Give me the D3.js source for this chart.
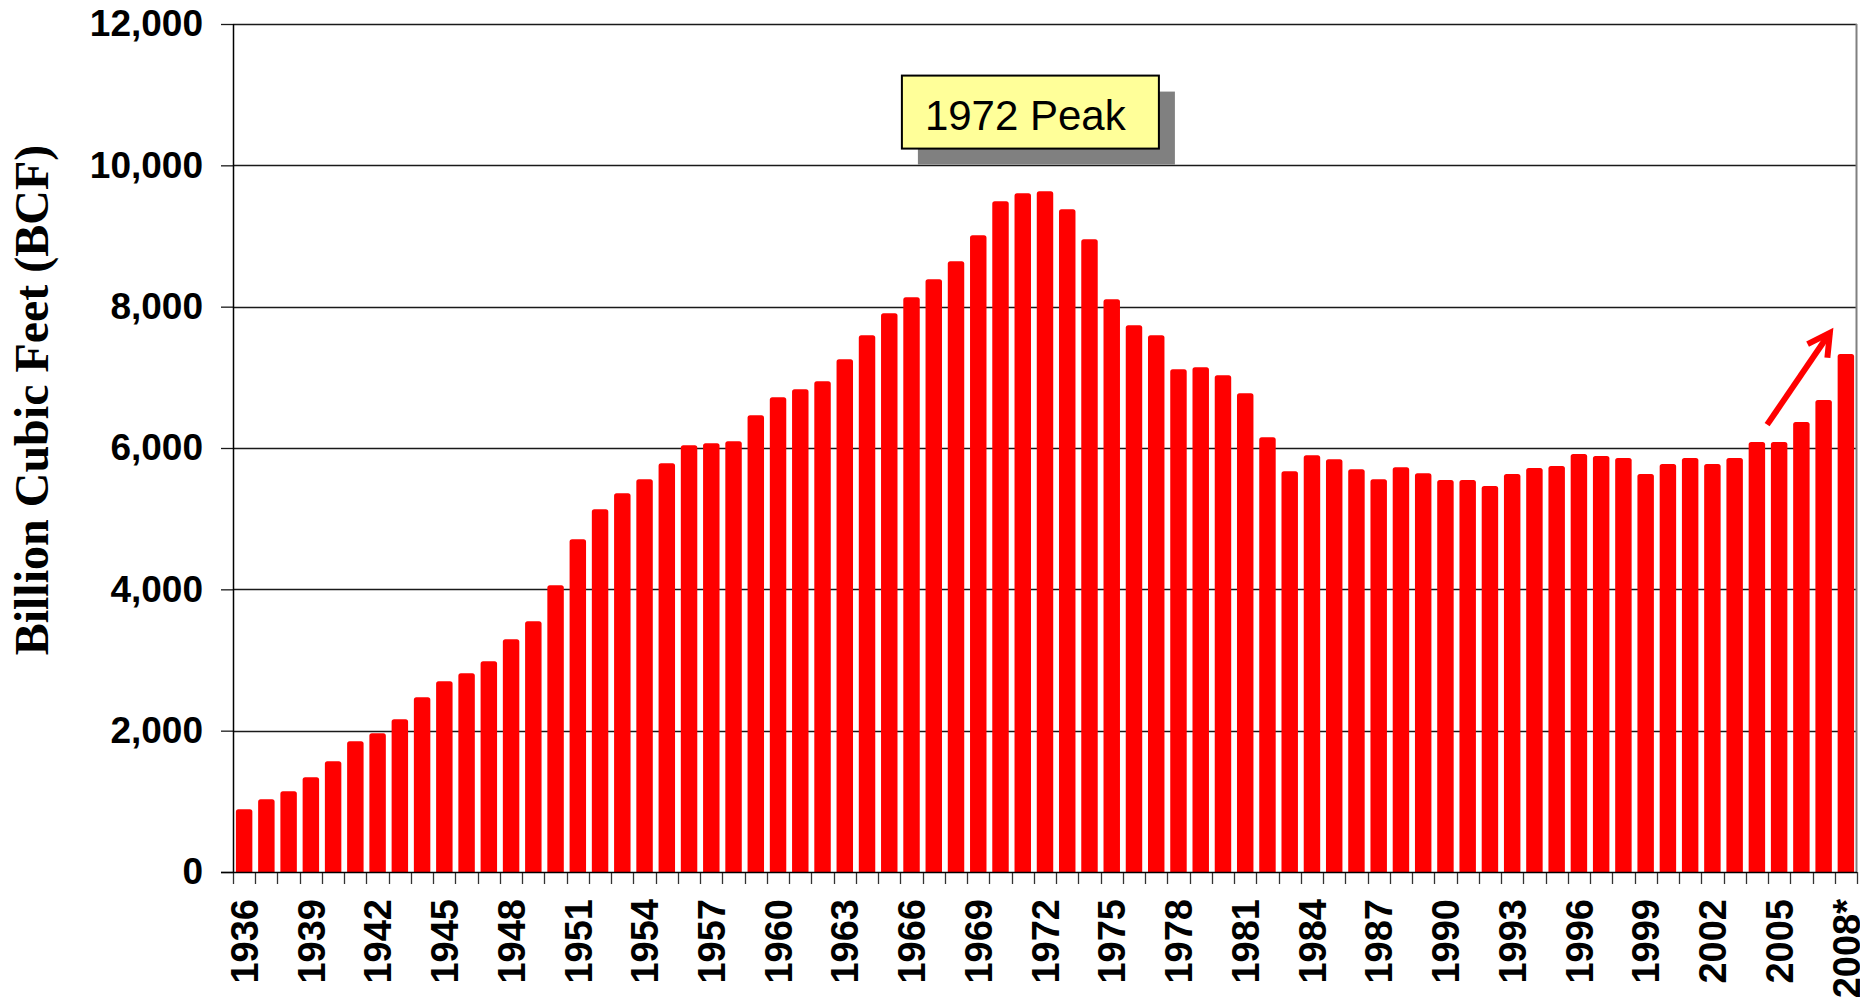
<!DOCTYPE html>
<html>
<head>
<meta charset="utf-8">
<script src="https://cdn.jsdelivr.net/npm/d3@7"></script>
<style>
  html, body { margin: 0; padding: 0; background: #ffffff; }
  svg { display: block; }
</style>
</head>
<body>
<svg id="chart"></svg>
<script>
// years shown on the x axis, one bar each
const years = ["1936","1937","1938","1939","1940","1941","1942","1943","1944","1945",
  "1946","1947","1948","1949","1950","1951","1952","1953","1954","1955",
  "1956","1957","1958","1959","1960","1961","1962","1963","1964","1965",
  "1966","1967","1968","1969","1970","1971","1972","1973","1974","1975",
  "1976","1977","1978","1979","1980","1981","1982","1983","1984","1985",
  "1986","1987","1988","1989","1990","1991","1992","1993","1994","1995",
  "1996","1997","1998","1999","2000","2001","2002","2003","2004","2005",
  "2006","2007","2008"];

// production, billion cubic feet
const production = [887, 1029, 1142, 1340, 1566, 1849, 1962, 2160, 2472, 2698,
  2812, 2981, 3293, 3548, 4057, 4708, 5132, 5359, 5557, 5783,
  6038, 6066, 6094, 6463, 6717, 6831, 6944, 7255, 7595, 7906,
  8132, 8387, 8642, 9010, 9491, 9604, 9632, 9378, 8953, 8104,
  7736, 7595, 7114, 7142, 7029, 6774, 6151, 5670, 5897, 5840,
  5698, 5557, 5727, 5642, 5547, 5547, 5462, 5632, 5717, 5745,
  5915, 5887, 5858, 5632, 5773, 5858, 5773, 5858, 6085, 6085,
  6368, 6679, 7330];

const xTickLabels = ["1936","1939","1942","1945","1948","1951","1954","1957","1960",
  "1963","1966","1969","1972","1975","1978","1981","1984","1987","1990","1993",
  "1996","1999","2002","2005","2008*"];
const yTicks = [0, 2000, 4000, 6000, 8000, 10000, 12000];

const yLabel = "Billion Cubic Feet (BCF)";
const peakLabel = "1972 Peak";

const width = 1860;
const height = 1003;
const margin = { top: 24, right: 3, bottom: 131, left: 233 };
const chartWidth = width - margin.left - margin.right;
const chartHeight = height - margin.top - margin.bottom;

const sans = "'Liberation Sans', Arial, Helvetica, sans-serif";
const serif = "'Liberation Serif', 'Times New Roman', serif";
const red = "#ff0000";

const svg = d3.select("#chart")
    .attr("width", width)
    .attr("height", height)
    .style("background-color", "#ffffff");

const x = d3.scaleBand()
    .domain(years)
    .range([0, chartWidth])
    .paddingInner(0.26)
    .paddingOuter(0.13);

const y = d3.scaleLinear()
    .domain([0, 12000])
    .range([chartHeight, 0]);

const chart = svg.append("g")
    .attr("transform", "translate(" + margin.left + "," + margin.top + ")");

// gridlines
chart.append("g")
    .selectAll("line")
    .data(yTicks.filter(d => d > 0))
    .join("line")
    .attr("x1", 0)
    .attr("x2", chartWidth)
    .attr("y1", d => Math.round(y(d)) + 0.5)
    .attr("y2", d => Math.round(y(d)) + 0.5)
    .style("stroke", "#1a1a1a")
    .style("stroke-width", 1.3);

// right border of plot area
chart.append("line")
    .attr("x1", chartWidth - 0.5)
    .attr("x2", chartWidth - 0.5)
    .attr("y1", 0)
    .attr("y2", chartHeight)
    .style("stroke", "#808080")
    .style("stroke-width", 2);

// bars with slightly rounded tops
const r = 2.5;
function barPath(x0, y0, w, h) {
    return "M" + x0 + "," + (y0 + h) +
        "V" + (y0 + r) +
        "Q" + x0 + "," + y0 + " " + (x0 + r) + "," + y0 +
        "H" + (x0 + w - r) +
        "Q" + (x0 + w) + "," + y0 + " " + (x0 + w) + "," + (y0 + r) +
        "V" + (y0 + h) + "Z";
}

chart.append("g")
    .selectAll("path")
    .data(production)
    .join("path")
    .attr("d", (d, i) => barPath(x(years[i]), y(d), x.bandwidth(), y(0) - y(d)))
    .style("fill", red);

// y axis
const yAxis = d3.axisLeft(y)
    .tickValues(yTicks)
    .tickFormat(d3.format(","))
    .tickSize(12)
    .tickPadding(18);

chart.append("g")
    .attr("class", "y-axis")
    .call(yAxis)
    .call(g => g.select(".domain").remove())
    .call(g => g.selectAll(".tick line").style("stroke", "#1a1a1a").style("stroke-width", 1.3))
    .call(g => g.selectAll(".tick text")
        .style("font-family", sans)
        .style("font-weight", "bold")
        .style("font-size", "37px")
        .style("fill", "#000"));

chart.append("line")
    .attr("x1", 0.5)
    .attr("x2", 0.5)
    .attr("y1", 0)
    .attr("y2", chartHeight)
    .style("stroke", "#000")
    .style("stroke-width", 1.5);

// x axis: ticks between every year, labels every third year
const step = x.step();
const bounds = years.map(d => x(d) - step * x.paddingOuter());
bounds.push(chartWidth);

chart.append("g")
    .selectAll("line")
    .data(bounds)
    .join("line")
    .attr("x1", d => Math.round(d) + 0.5)
    .attr("x2", d => Math.round(d) + 0.5)
    .attr("y1", chartHeight)
    .attr("y2", chartHeight + 12)
    .style("stroke", "#333")
    .style("stroke-width", 1.3);

chart.append("line")
    .attr("x1", -12)
    .attr("x2", chartWidth)
    .attr("y1", chartHeight + 0.5)
    .attr("y2", chartHeight + 0.5)
    .style("stroke", "#000")
    .style("stroke-width", 1.5);

const xAxis = d3.axisBottom(x)
    .tickValues(years.filter((d, i) => i % 3 === 0))
    .tickFormat((d, i) => xTickLabels[i])
    .tickSize(0);

chart.append("g")
    .attr("class", "x-axis")
    .attr("transform", "translate(0," + chartHeight + ")")
    .call(xAxis)
    .call(g => g.select(".domain").remove())
    .call(g => g.selectAll(".tick text")
        .attr("transform", "rotate(-90)")
        .attr("x", -27)
        .attr("y", 0)
        .attr("dy", "0.36em")
        .attr("text-anchor", "end")
        .style("font-family", sans)
        .style("font-weight", "bold")
        .style("font-size", "38px")
        .style("fill", "#000"));

// y axis title
svg.append("text")
    .attr("transform", "translate(48,400) rotate(-90)")
    .attr("text-anchor", "middle")
    .style("font-family", serif)
    .style("font-weight", "bold")
    .style("font-size", "48px")
    .style("fill", "#000")
    .text(yLabel);

// "1972 Peak" callout
const boxX = x("1966") + 1.5 - step * 0.13;
const boxY = y(11270);
const boxW = 257;
const boxH = 73;

chart.append("rect")
    .attr("x", boxX + 16)
    .attr("y", boxY + 16)
    .attr("width", boxW)
    .attr("height", boxH)
    .style("fill", "#808080");

chart.append("rect")
    .attr("x", boxX)
    .attr("y", boxY)
    .attr("width", boxW)
    .attr("height", boxH)
    .style("fill", "#ffff99")
    .style("stroke", "#000")
    .style("stroke-width", 2);

chart.append("text")
    .attr("x", boxX + 23)
    .attr("y", boxY + 54)
    .style("font-family", sans)
    .style("font-size", "42px")
    .style("fill", "#000")
    .text(peakLabel);

// rising arrow over the last bars
const ax0 = x("2004") + x.bandwidth() + 2;
const ay0 = y(6330);
const ax1 = x("2007") + x.bandwidth() - 2;
const ay1 = y(7630);
const ang = Math.atan2(ay0 - ay1, ax0 - ax1);
const armLen = 25;
const arm = a => [ax1 + armLen * Math.cos(ang + a), ay1 + armLen * Math.sin(ang + a)];
const a1 = arm(0.5);
const a2 = arm(-0.5);

chart.append("line")
    .attr("x1", ax0)
    .attr("y1", ay0)
    .attr("x2", ax1)
    .attr("y2", ay1)
    .style("stroke", red)
    .style("stroke-width", 6);

chart.append("path")
    .attr("d", "M" + a1[0] + "," + a1[1] + "L" + ax1 + "," + ay1 + "L" + a2[0] + "," + a2[1])
    .style("fill", "none")
    .style("stroke", red)
    .style("stroke-width", 6)
    .style("stroke-linejoin", "miter");
</script>
</body>
</html>
